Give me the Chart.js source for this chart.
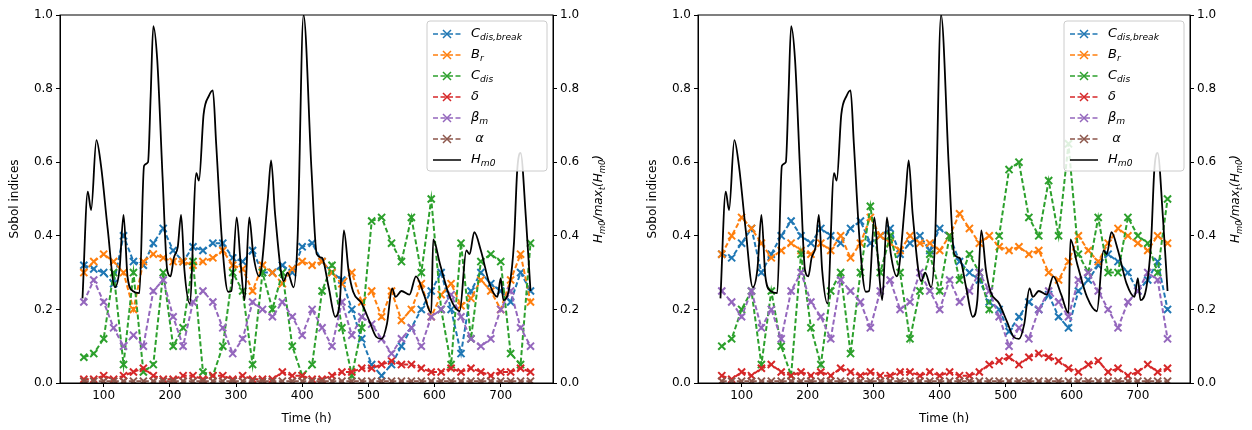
<!DOCTYPE html>
<html lang="en">
<head>
<meta charset="UTF-8">
<title>Sobol indices</title>
<script src="https://cdn.jsdelivr.net/npm/chart.js@4/dist/chart.umd.min.js"></script>
<style>
  body { margin: 0; background: #fff; width: 1252px; height: 430px; position: relative; overflow: hidden; }
  .box { position: absolute; top: 0; height: 430px; }
</style>
</head>
<body>
<div class="box" style="left:0;width:626px"><canvas id="left"></canvas></div>
<div class="box" style="left:638px;width:614px"><canvas id="right"></canvas></div>
<script>
// time (h) of the read-off samples
var times = [70,85,100,115,130,145,160,175,190,205,220,235,250,265,280,295,310,325,340,355,370,385,400,415,430,445,460,475,490,505,520,535,550,565,580,595,610,625,640,655,670,685,700,715,730,745];

// left panel
var breakL = [.32,.31,.30,.27,.40,.33,.32,.38,.42,.36,.33,.37,.36,.38,.38,.34,.33,.36,.30,.30,.32,.30,.37,.38,.33,.30,.28,.20,.12,.05,.02,.05,.10,.15,.20,.25,.30,.20,.08,.25,.30,.27,.25,.22,.30,.25];
var brL    = [.30,.33,.35,.33,.30,.20,.33,.35,.34,.33,.33,.32,.33,.34,.36,.32,.31,.25,.32,.30,.27,.31,.33,.32,.33,.30,.27,.30,.22,.25,.18,.25,.17,.20,.27,.18,.24,.27,.21,.23,.28,.25,.20,.28,.35,.22];
var cdisL  = [.07,.08,.12,.30,.05,.30,.03,.05,.30,.10,.15,.33,.03,.02,.10,.30,.25,.05,.30,.20,.30,.10,.02,.05,.25,.32,.15,.02,.15,.44,.45,.38,.33,.45,.30,.50,.20,.05,.38,.12,.33,.35,.33,.08,.05,.38];
var deltaL = [.01,.01,.02,.01,.02,.03,.04,.02,.01,.01,.02,.02,.01,.02,.02,.01,.02,.01,.01,.01,.03,.02,.02,.01,.01,.02,.03,.03,.04,.04,.05,.06,.05,.05,.04,.03,.03,.04,.03,.04,.03,.02,.03,.03,.04,.03];
var betaL  = [.22,.28,.22,.15,.10,.13,.10,.25,.28,.18,.10,.22,.25,.22,.15,.08,.12,.22,.20,.18,.22,.18,.13,.20,.15,.10,.22,.13,.18,.16,.12,.08,.12,.15,.10,.18,.20,.24,.18,.12,.10,.12,.20,.25,.15,.10];
var alphaL = [.005,.005,.005,.005,.005,.005,.005,.005,.005,.005,.005,.005,.005,.005,.005,.005,.005,.005,.005,.005,.005,.005,.005,.005,.005,.005,.005,.005,.005,.005,.005,.005,.005,.005,.005,.005,.005,.005,.005,.005,.005,.005,.005,.005,.005,.005];

// right panel
var breakR = [.35,.34,.38,.42,.30,.35,.40,.44,.40,.38,.42,.40,.38,.42,.44,.38,.40,.42,.35,.38,.40,.36,.42,.40,.33,.30,.28,.22,.20,.14,.18,.22,.20,.24,.18,.15,.25,.28,.32,.35,.33,.30,.25,.28,.33,.20];
var brR    = [.35,.40,.45,.42,.38,.34,.36,.38,.36,.35,.38,.36,.40,.34,.38,.45,.40,.38,.36,.40,.38,.38,.36,.40,.46,.42,.38,.40,.37,.36,.37,.35,.36,.30,.28,.33,.40,.36,.33,.38,.42,.40,.38,.36,.40,.38];
var cdisR  = [.10,.12,.20,.25,.05,.25,.10,.02,.35,.15,.05,.25,.30,.08,.30,.48,.30,.40,.30,.12,.25,.35,.25,.40,.28,.35,.30,.20,.40,.58,.60,.45,.40,.55,.40,.65,.35,.30,.45,.30,.30,.45,.40,.38,.30,.50];
var deltaR = [.02,.01,.03,.02,.04,.05,.03,.02,.03,.02,.03,.02,.04,.03,.02,.03,.02,.02,.03,.03,.02,.03,.02,.03,.02,.02,.03,.05,.06,.07,.05,.07,.08,.07,.06,.04,.03,.05,.06,.03,.04,.02,.03,.05,.03,.04];
var betaR  = [.25,.22,.18,.25,.15,.20,.12,.25,.30,.22,.18,.12,.28,.25,.22,.15,.25,.28,.20,.22,.30,.25,.20,.28,.22,.25,.30,.25,.18,.10,.15,.12,.20,.25,.22,.18,.28,.30,.25,.20,.15,.22,.25,.30,.28,.12];
var alphaR = [.005,.005,.005,.005,.005,.005,.005,.005,.005,.005,.005,.005,.005,.005,.005,.005,.005,.005,.005,.005,.005,.005,.005,.005,.005,.005,.005,.005,.005,.005,.005,.005,.005,.005,.005,.005,.005,.005,.005,.005,.005,.005,.005,.005,.005,.005];

// normalised wave height, same in both panels
var hmT = [68,76,81,89,96,106,117,124,130,136,144,154,161,167,171,175,181,189,196,201,206,212,217,222,230,240,244,251,259,265,270,279,288,293,301,307,313,320,326,335,348,353,359,372,378,387,393,402,414,422,430,440,450,457,463,470,477,490,502,512,520,528,536,541,550,562,572,584,595,598,608,623,638,648,653,660,670,683,695,700,704,713,720,725,730,738,745];
var hmV = [.23,.52,.47,.66,.59,.42,.26,.31,.457,.29,.25,.244,.59,.60,.78,.97,.877,.56,.307,.29,.34,.37,.457,.307,.216,.57,.55,.73,.78,.795,.65,.38,.248,.25,.45,.325,.225,.45,.35,.29,.50,.605,.46,.277,.30,.26,.39,1.0,.58,.35,.34,.26,.18,.225,.415,.307,.248,.216,.166,.125,.12,.16,.257,.234,.25,.24,.29,.24,.19,.39,.325,.234,.195,.36,.35,.41,.36,.27,.234,.285,.225,.26,.38,.58,.625,.45,.25];

var xTicks = [100,200,300,400,500,600,700];
var colors = ['#1f77b4','#ff7f0e','#2ca02c','#d62728','#9467bd','#8c564b'];
var labels = [
  [['C',0],['dis,break',1]], [['B',0],['r',1]], [['C',0],['dis',1]],
  [['δ',0]], [['β',0],['m',1]], [[' α',0]], [['H',0],['m0',1]]
];

function pts(xs, ys) { return xs.map(function (x, i) { return { x: x, y: ys[i] }; }); }

function richWidth(ctx, parts, size) {
  var w = 0;
  parts.forEach(function (p) {
    ctx.font = 'italic ' + (p[1] ? size * 0.7 : size) + 'px "DejaVu Sans"';
    w += ctx.measureText(p[0]).width;
  });
  return w;
}
function rich(ctx, parts, x, y, size) {
  parts.forEach(function (p) {
    ctx.font = 'italic ' + (p[1] ? size * 0.7 : size) + 'px "DejaVu Sans"';
    ctx.fillText(p[0], x, y + (p[1] ? size * 0.3 : 0));
    x += ctx.measureText(p[0]).width;
  });
}

var decor = {
  id: 'decor',
  afterDraw: function (chart) {
    var ctx = chart.ctx, a = chart.chartArea;
    ctx.save();
    ctx.strokeStyle = '#000'; ctx.lineWidth = 1;
    ctx.strokeRect(a.left, a.top, a.right - a.left, a.bottom - a.top);
    // legend
    var lx = a.right - 126, ly = a.top + 6, lw = 120, lh = 150;
    ctx.fillStyle = 'rgba(255,255,255,0.85)';
    ctx.strokeStyle = '#cccccc';
    ctx.beginPath(); ctx.roundRect(lx, ly, lw, lh, 3); ctx.fill(); ctx.stroke();
    ctx.textBaseline = 'middle';
    labels.forEach(function (parts, i) {
      var yy = ly + 13 + i * 21;
      ctx.lineWidth = 1.5;
      if (i < 6) {
        ctx.strokeStyle = colors[i]; ctx.setLineDash([5, 2.5]);
        ctx.beginPath(); ctx.moveTo(lx + 6, yy); ctx.lineTo(lx + 34, yy); ctx.stroke();
        ctx.setLineDash([]);
        ctx.beginPath();
        ctx.moveTo(lx + 16, yy - 4); ctx.lineTo(lx + 24, yy + 4);
        ctx.moveTo(lx + 16, yy + 4); ctx.lineTo(lx + 24, yy - 4); ctx.stroke();
      } else {
        ctx.strokeStyle = '#000';
        ctx.beginPath(); ctx.moveTo(lx + 6, yy); ctx.lineTo(lx + 34, yy); ctx.stroke();
      }
      ctx.fillStyle = '#000';
      rich(ctx, parts, lx + 44, yy, 13);
    });
    // right axis title
    var title = [['H',0],['m0',1],['/max',0],['t',1],['(H',0],['m0',1],[')',0]];
    var tw = richWidth(ctx, title, 12);
    ctx.translate(a.right + 46, (a.top + a.bottom) / 2);
    ctx.rotate(-Math.PI / 2);
    ctx.textBaseline = 'middle';
    rich(ctx, title, -tw / 2, 0, 12);
    ctx.restore();
  }
};

function makeChart(id, series, rightWidth) {
  var names = ['C_dis,break','B_r','C_dis','delta','beta_m','alpha'];
  var drawOrder = [6, 5, 4, 3, 2, 1];
  var ds = series.map(function (s, i) {
    return {
      label: names[i], data: pts(times, s), yAxisID: 'y', order: drawOrder[i],
      borderColor: colors[i], backgroundColor: colors[i], borderWidth: 2, borderDash: [5, 2.5],
      pointStyle: 'crossRot', pointRadius: 5, pointBorderWidth: 2, pointBorderColor: colors[i]
    };
  });
  ds.push({ label: 'H_m0', data: pts(hmT, hmV), yAxisID: 'y1', order: 0,
    borderColor: '#000', borderWidth: 1.8, pointRadius: 0, cubicInterpolationMode: 'monotone' });

  var tickFont = { family: 'DejaVu Sans', size: 12 };
  new Chart(document.getElementById(id), {
    type: 'line',
    data: { datasets: ds },
    options: {
      responsive: false, animation: false, devicePixelRatio: 1,
      layout: { padding: { top: 15, left: 0, right: 0, bottom: 0 } },
      plugins: { legend: { display: false }, tooltip: { enabled: false } },
      scales: {
        x: {
          type: 'linear', min: 34, max: 779,
          afterBuildTicks: function (s) { s.ticks = xTicks.map(function (v) { return { value: v }; }); },
          afterFit: function (s) { s.height = 47; },
          grid: { drawOnChartArea: false, tickLength: 4, color: '#000' },
          border: { color: '#000' },
          ticks: { color: '#000', font: tickFont, padding: 2 },
          title: { display: true, text: 'Time (h)', color: '#000', font: tickFont, padding: { top: 2 } }
        },
        y: {
          position: 'left', min: 0, max: 1,
          afterFit: function (s) { s.width = 60; },
          grid: { drawOnChartArea: false, tickLength: 4, color: '#000' },
          border: { color: '#000' },
          ticks: { stepSize: 0.2, color: '#000', font: tickFont, padding: 3,
            callback: function (v) { return v.toFixed(1); } },
          title: { display: true, text: 'Sobol indices', color: '#000', font: tickFont, padding: { top: 8, bottom: 2 } }
        },
        y1: {
          position: 'right', min: 0, max: 1,
          afterFit: function (s) { s.width = rightWidth; },
          grid: { drawOnChartArea: false, tickLength: 4, color: '#000' },
          border: { color: '#000' },
          ticks: { stepSize: 0.2, color: '#000', font: tickFont, padding: 3,
            callback: function (v) { return v.toFixed(1); } }
        }
      }
    },
    plugins: [decor]
  });
}

document.getElementById('left').width = 626; document.getElementById('left').height = 430;
document.getElementById('right').width = 614; document.getElementById('right').height = 430;
makeChart('left', [breakL, brL, cdisL, deltaL, betaL, alphaL], 73);
makeChart('right', [breakR, brR, cdisR, deltaR, betaR, alphaR], 62);
</script>
</body>
</html>
